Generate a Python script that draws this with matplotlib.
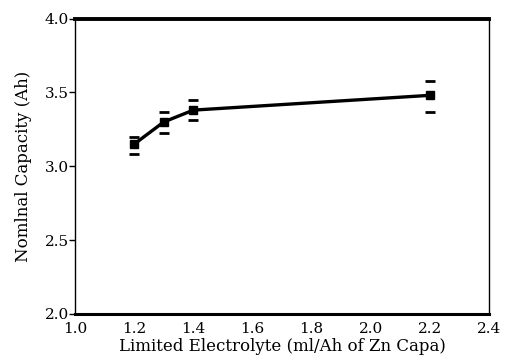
import matplotlib
matplotlib.use("Agg")
import matplotlib.pyplot as plt

# Electrolyte volume per Ah of Zn capacity vs. nominal capacity
electrolyte = [1.2, 1.3, 1.4, 2.2]
capacity = [3.15, 3.30, 3.38, 3.48]
err_low = [0.07, 0.075, 0.07, 0.11]
err_high = [0.05, 0.07, 0.07, 0.10]

x_ticks = [1.0, 1.2, 1.4, 1.6, 1.8, 2.0, 2.2, 2.4]
y_ticks = [2.0, 2.5, 3.0, 3.5, 4.0]

plt.rcParams["font.family"] = ["DejaVu Serif"]

fig = plt.figure(figsize=(5.11, 3.63), dpi=100)
ax = fig.add_axes([0.147, 0.135, 0.810, 0.814])

ax.errorbar(electrolyte, capacity, yerr=[err_low, err_high],
            fmt="s-", color="black", lw=2.4, ms=5.5,
            ecolor="black", elinewidth=0, capsize=3.8, capthick=2.0)

ax.set_xlim(1.0, 2.4)
ax.set_ylim(2.0, 4.0)
ax.set_xticks(x_ticks)
ax.set_yticks(y_ticks)
ax.set_xticklabels([f"{v:.1f}" for v in x_ticks], fontsize=11)
ax.set_yticklabels([f"{v:.1f}" for v in y_ticks], fontsize=11)
ax.tick_params(axis="x", length=0, pad=6)
ax.tick_params(axis="y", direction="out", length=4, width=1, pad=0.5)

ax.spines["top"].set_linewidth(2.8)
ax.spines["bottom"].set_linewidth(2.2)
ax.spines["left"].set_linewidth(1.0)
ax.spines["right"].set_linewidth(1.0)

ax.set_xlabel("Limited Electrolyte (ml/Ah of Zn Capa)", fontsize=12, labelpad=1)
ax.set_ylabel("Nomlnal Capacity (Ah)", fontsize=12, labelpad=9)

fig.savefig("out.png", dpi=100)
